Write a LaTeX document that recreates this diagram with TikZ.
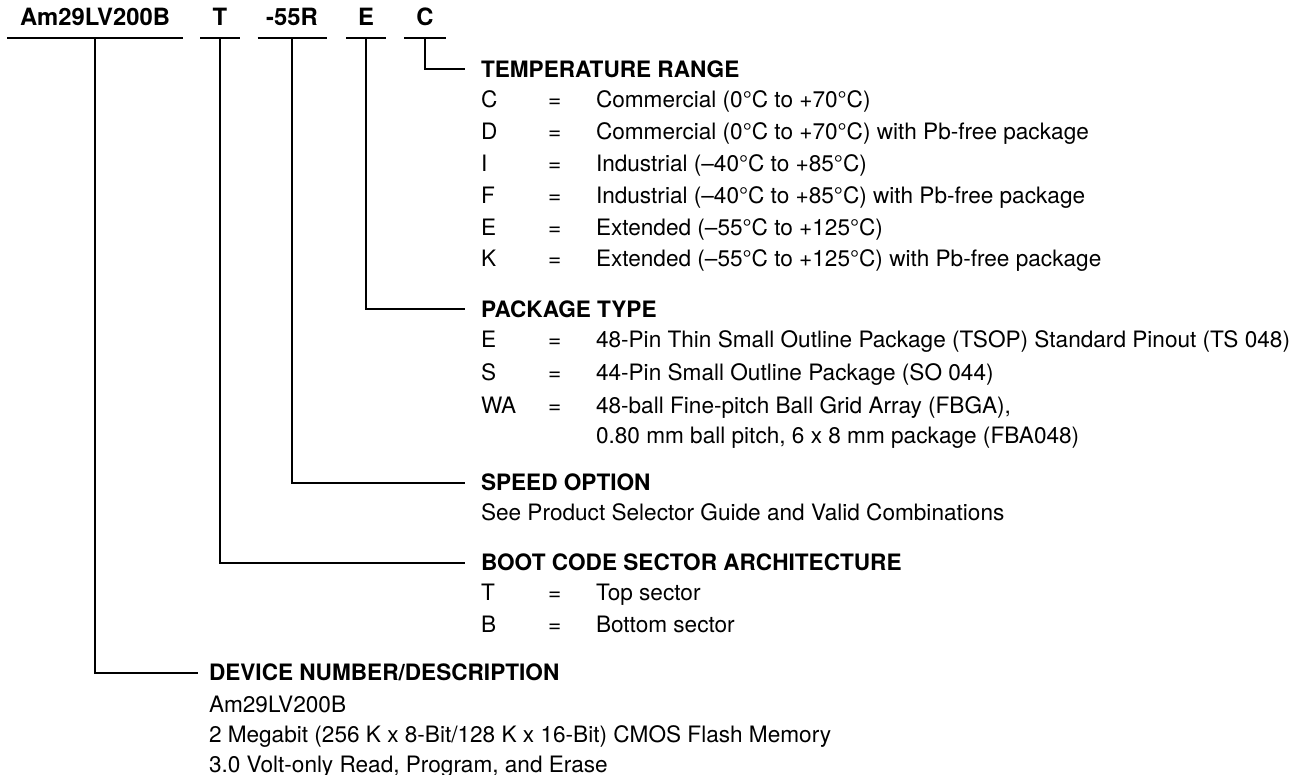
\documentclass[tikz,border=0pt]{standalone}
\usepackage{fontspec}
\setmainfont{TeX Gyre Heros}
\usetikzlibrary{positioning}

\begin{document}
\begin{tikzpicture}[x=0.5pt,y=-0.5pt,line width=1pt,
  every node/.style={font=\fontsize{11.3}{13}\selectfont,inner sep=0pt},
  field/.style={font=\fontsize{11.9}{13}\selectfont\bfseries,anchor=south,inner ysep=5.5pt,text depth=0pt},
  head/.style={font=\fontsize{11.3}{13}\selectfont\bfseries,anchor=west,inner xsep=7.5pt,text depth=0pt},
  row/.style={anchor=base west}]
\useasboundingbox (0,0) rectangle (1301,775);
% part number fields
\node[field,minimum width=87pt] (pn) at (95,38) {Am29LV200B};
\node[field,minimum width=19pt] (boot) at (220,38) {T};
\node[field,minimum width=33.5pt] (speed) at (292,38) {-55R};
\node[field,minimum width=19pt] (pkg) at (366,38) {E};
\node[field,minimum width=20pt] (temp) at (425,38) {C};
\foreach \n in {pn,boot,speed,pkg,temp}
  \draw (\n.south west)--(\n.south east);
% headings
\node[head] (htemp) at (465,69.5) {TEMPERATURE RANGE};
\node[head] (hpkg) at (465,309.5) {PACKAGE TYPE};
\node[head] (hspeed) at (465,482.5) {SPEED OPTION};
\node[head] (hboot) at (465,562.5) {BOOT CODE SECTOR ARCHITECTURE};
\node[head,inner xsep=5pt] (hpn) at (198,672.5) {DEVICE NUMBER/DESCRIPTION};
\draw (temp.south) |- (htemp.west);
\draw (pkg.south) |- (hpkg.west);
\draw (speed.south) |- (hspeed.west);
\draw (boot.south) |- (hboot.west);
\draw (pn.south) |- (hpn.west);
% temperature range
\foreach \k/\d [count=\i, evaluate=\i as \y using 108+31.8*(\i-1)] in {
  C/{Commercial (0°C to +70°C)},
  D/{Commercial (0°C to +70°C) with Pb-free package},
  I/{Industrial (--40°C to +85°C)},
  F/{Industrial (--40°C to +85°C) with Pb-free package},
  E/{Extended (--55°C to +125°C)},
  K/{Extended (--55°C to +125°C) with Pb-free package}} {
  \node[row] (tk\i) at (480,\y) {\k};
  \node[row] (te\i) at (547,\y) {=};
  \node[row] (td\i) at (595,\y) {\d};
  }
% package type
\foreach \k/\d [count=\i, evaluate=\i as \y using 348+32.5*(\i-1)] in {
  E/{48-Pin Thin Small Outline Package (TSOP) Standard Pinout (TS 048)},
  S/{44-Pin Small Outline Package (SO 044)},
  WA/{48-ball Fine-pitch Ball Grid Array (FBGA),}} {
  \node[row] (pk\i) at (480,\y) {\k};
  \node[row] (pe\i) at (547,\y) {=};
  \node[row] (pd\i) at (595,\y) {\d};
  }
\node[row] (pd4) at (595,443) {0.80 mm ball pitch, 6 x 8 mm package (FBA048)};
% speed option
\node[row] (sd) at (480,520) {See Product Selector Guide and Valid Combinations};
% boot code
\foreach \k/\d [count=\i, evaluate=\i as \y using 600+32*(\i-1)] in {
  T/Top sector, B/Bottom sector} {
  \node[row] (bk\i) at (480,\y) {\k};
  \node[row] (be\i) at (547,\y) {=};
  \node[row] (bd\i) at (595,\y) {\d};
  }
% device description
\node[row] (dd1) at (208,712) {Am29LV200B};
\node[row] (dd2) at (208,742) {2 Megabit (256 K x 8-Bit/128 K x 16-Bit) CMOS Flash Memory};
\node[row] (dd3) at (208,772) {3.0 Volt-only Read, Program, and Erase};
\end{tikzpicture}
\end{document}
